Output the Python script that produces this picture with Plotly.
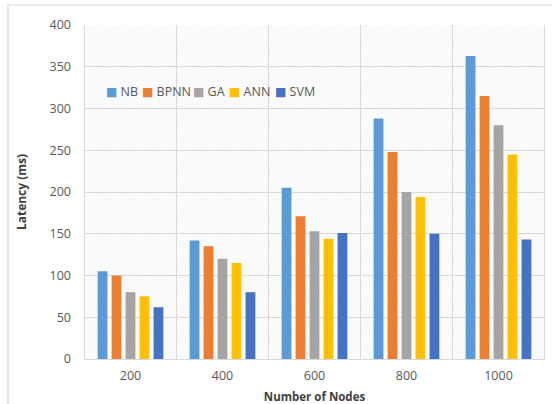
import base64
import plotly.graph_objects as go

categories = ["200", "400", "600", "800", "1000"]
series_names = ["NB", "BPNN", "GA", "ANN", "SVM"]
nb = [105, 142, 205, 288, 363]
bpnn = [100, 135, 171, 248, 315]
ga = [80, 120, 153, 200, 280]
ann = [75, 115, 144, 194, 245]
svm = [62, 80, 151, 150, 143]
y_ticks = [0, 50, 100, 150, 200, 250, 300, 350, 400]

colors = ["#5b9bd5", "#ed7d31", "#a5a5a5", "#ffc000", "#4472c4"]
values = [nb, bpnn, ga, ann, svm]

W, H = 556, 404
ml, mr, mt, mb = 84, 11, 25, 45
pw, ph = W - ml - mr, H - mt - mb

# hatched background texture for plot area
svg = (
    f'<svg xmlns="http://www.w3.org/2000/svg" width="{pw}" height="{ph}">'
    '<defs><pattern id="p" width="3" height="3" patternUnits="userSpaceOnUse">'
    '<rect width="3" height="3" fill="#ffffff"/>'
    '<path d="M-1,-1 l5,5 M-1,2 l2,2 M2,-1 l2,2" stroke="#e9e9e9" stroke-width="0.7"/>'
    '</pattern></defs>'
    f'<rect width="{pw}" height="{ph}" fill="url(#p)"/></svg>'
)
src = "data:image/svg+xml;base64," + base64.b64encode(svg.encode()).decode()

fig = go.Figure()
for name, vals, c in zip(series_names, values, colors):
    fig.add_trace(go.Bar(x=categories, y=vals, name=name, showlegend=False,
                         marker=dict(color=c, line=dict(width=0))))

font = "Open Sans, Noto Sans, sans-serif"

# compact legend row (key squares + names), placed inside the plot area
legend_px = [104, 140, 191, 227, 273]
legend_y = 1 - (91.7 - mt) / ph
annotations = []
for name, c, px in zip(series_names, colors, legend_px):
    annotations.append(dict(
        xref="paper", yref="paper", x=(px - ml) / pw, y=legend_y,
        xanchor="left", yanchor="middle", showarrow=False,
        text=f"<span style='color:{c};font-family:DejaVu Sans;font-size:12px'>■</span> {name}",
        font=dict(family=font, size=12.5, color="#595959"),
    ))

fig.update_layout(
    width=W, height=H,
    margin=dict(l=ml, r=mr, t=mt, b=mb, autoexpand=False),
    paper_bgcolor="white",
    plot_bgcolor="rgba(0,0,0,0)",
    barmode="group",
    bargap=0.24,
    bargroupgap=0.3,
    showlegend=False,
    font=dict(family=font, size=12, color="#595959"),
    annotations=annotations,
    images=[dict(source=src, xref="paper", yref="paper", x=0, y=1, sizex=1, sizey=1,
                 xanchor="left", yanchor="top", sizing="stretch", layer="below")],
    shapes=[
        dict(type="line", xref="paper", yref="paper", x0=-76 / pw, x1=(552 - ml) / pw,
             y0=1 + 20 / ph, y1=1 + 20 / ph, line=dict(color="#d9d9d9", width=1.2)),
        dict(type="line", xref="paper", yref="paper", x0=-76 / pw, x1=-76 / pw,
             y0=1 + 20 / ph, y1=-mb / ph, line=dict(color="#d9d9d9", width=1.2)),
        dict(type="line", xref="x", yref="paper", x0=-0.5, x1=-0.5, y0=0, y1=1,
             line=dict(color="#d9d9d9", width=1), layer="below"),
        dict(type="line", xref="x", yref="paper", x0=4.5, x1=4.5, y0=0, y1=1,
             line=dict(color="#d9d9d9", width=1), layer="below"),
    ],
)
fig.update_xaxes(
    automargin=False,
    title=dict(text="<b>Number of Nodes</b>", font=dict(size=11.5, color="#404040"), standoff=9),
    showgrid=False, showline=True, linecolor="#d9d9d9", linewidth=1,
    ticks="", tickfont=dict(size=12.5, color="#595959"),
    ticklabelstandoff=5,
)
# category boundary gridlines
for b in [0.5, 1.5, 2.5, 3.5]:
    fig.add_shape(type="line", xref="x", yref="paper", x0=b, x1=b, y0=0, y1=1,
                  line=dict(color="#d9d9d9", width=1), layer="below")
fig.update_yaxes(
    automargin=False,
    title=dict(text="<b>Latency (ms)</b>", font=dict(size=12, color="#404040"), standoff=20),
    range=[0, 400], tickvals=y_ticks, showgrid=True, gridcolor="#d9d9d9", gridwidth=1,
    zeroline=False, showline=False, ticks="", tickfont=dict(size=12.5, color="#595959"),
    ticklabelstandoff=12,
)
fig.write_html("out.html", config={"displayModeBar": False},
               post_script="document.body.style.margin='0';")
